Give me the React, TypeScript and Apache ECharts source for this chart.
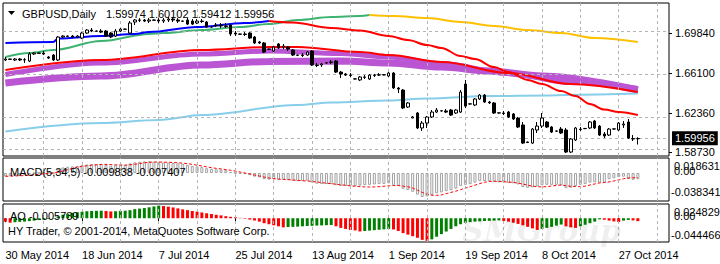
import React, { useEffect, useRef } from 'react';
import * as echarts from 'echarts';

const FONT = 'Liberation Sans';

// ---------- axis / labels ----------
const symbolTitle = 'GBPUSD,Daily';
const dateLabels = ['30 May 2014', '18 Jun 2014', '7 Jul 2014', '25 Jul 2014', '13 Aug 2014', '1 Sep 2014', '19 Sep 2014', '8 Oct 2014', '27 Oct 2014'];
const labelStep = 16;
const vGridIndex = [8, 16, 24, 32, 40, 48, 56, 64, 72, 80, 88, 96, 104, 112, 120, 128, 136];
const slotCount = 139; // 133 bars + chart shift
const priceTicks = [1.6984, 1.661, 1.6236, 1.5873];
const priceRange = [1.5834, 1.7265];
const macdScale = [0.018631, 0, -0.038341];
const macdRange = [-0.04473, 0.02396];
const aoScale = [0.024829, 0, -0.044466];
const aoRange = [-0.0468, 0.028];
const copyright = 'HY Trader, \u00A9 2001-2014, MetaQuotes Software Corp.';
const watermark = 'SMGroup';

// ---------- daily candles [open, high, low, close] ----------
const ohlc = [
  [1.6732, 1.6760, 1.6722, 1.6741], [1.6741, 1.6744, 1.6735, 1.6738], [1.6732, 1.6750, 1.6722, 1.6741], [1.6741, 1.6750, 1.6722, 1.6732],
  [1.6732, 1.6750, 1.6704, 1.6735], [1.6722, 1.6806, 1.6713, 1.6788], [1.6788, 1.6806, 1.6778, 1.6797], [1.6797, 1.6800, 1.6790, 1.6794],
  [1.6797, 1.6816, 1.6778, 1.6788], [1.6760, 1.6769, 1.6741, 1.6750], [1.6778, 1.6788, 1.6722, 1.6732], [1.6732, 1.6956, 1.6722, 1.6947],
  [1.6947, 1.6965, 1.6937, 1.6956], [1.6956, 1.6960, 1.6950, 1.6953], [1.6956, 1.6965, 1.6937, 1.6947], [1.6947, 1.6965, 1.6937, 1.6956],
  [1.6937, 1.6993, 1.6928, 1.6984], [1.6984, 1.7021, 1.6975, 1.7012], [1.7012, 1.7031, 1.6993, 1.7003], [1.7003, 1.7007, 1.6998, 1.7001],
  [1.7003, 1.7021, 1.6984, 1.6993], [1.7003, 1.7012, 1.6947, 1.6956], [1.6984, 1.6993, 1.6937, 1.6947], [1.6956, 1.7021, 1.6947, 1.7003],
  [1.7003, 1.7031, 1.6993, 1.7021], [1.7021, 1.7025, 1.7016, 1.7019], [1.6984, 1.7096, 1.6975, 1.7078], [1.7087, 1.7115, 1.7059, 1.7106],
  [1.7106, 1.7124, 1.7087, 1.7103], [1.7106, 1.7115, 1.7087, 1.7096], [1.7096, 1.7124, 1.7078, 1.7106], [1.7106, 1.7110, 1.7100, 1.7104],
  [1.7106, 1.7124, 1.7078, 1.7096], [1.7096, 1.7124, 1.7078, 1.7106], [1.7106, 1.7134, 1.7087, 1.7115], [1.7115, 1.7134, 1.7087, 1.7106],
  [1.7106, 1.7124, 1.7078, 1.7096], [1.7096, 1.7100, 1.7090, 1.7094], [1.7106, 1.7124, 1.7059, 1.7068], [1.7096, 1.7115, 1.7059, 1.7068],
  [1.7078, 1.7115, 1.7068, 1.7096], [1.7096, 1.7115, 1.7078, 1.7092], [1.7087, 1.7096, 1.7031, 1.7040], [1.7040, 1.7044, 1.7035, 1.7042],
  [1.7059, 1.7078, 1.7040, 1.7055], [1.7059, 1.7078, 1.7031, 1.7050], [1.7050, 1.7078, 1.7031, 1.7046], [1.7059, 1.7068, 1.6956, 1.6975],
  [1.6984, 1.7003, 1.6956, 1.6975], [1.6975, 1.6979, 1.6970, 1.6973], [1.6975, 1.6993, 1.6956, 1.6971], [1.6984, 1.6993, 1.6928, 1.6937],
  [1.6947, 1.6956, 1.6881, 1.6891], [1.6900, 1.6909, 1.6881, 1.6891], [1.6891, 1.6900, 1.6797, 1.6806], [1.6834, 1.6838, 1.6828, 1.6832],
  [1.6816, 1.6862, 1.6806, 1.6853], [1.6881, 1.6891, 1.6834, 1.6844], [1.6853, 1.6881, 1.6834, 1.6862], [1.6853, 1.6862, 1.6816, 1.6834],
  [1.6825, 1.6834, 1.6769, 1.6778], [1.6778, 1.6782, 1.6773, 1.6776], [1.6778, 1.6797, 1.6760, 1.6774], [1.6778, 1.6816, 1.6769, 1.6806],
  [1.6816, 1.6825, 1.6676, 1.6685], [1.6685, 1.6704, 1.6666, 1.6681], [1.6685, 1.6704, 1.6666, 1.6694], [1.6704, 1.6708, 1.6699, 1.6706],
  [1.6713, 1.6732, 1.6694, 1.6710], [1.6722, 1.6732, 1.6610, 1.6619], [1.6619, 1.6629, 1.6563, 1.6601], [1.6601, 1.6610, 1.6582, 1.6591],
  [1.6591, 1.6610, 1.6573, 1.6588], [1.6554, 1.6558, 1.6549, 1.6556], [1.6545, 1.6582, 1.6535, 1.6573], [1.6573, 1.6591, 1.6554, 1.6570],
  [1.6554, 1.6601, 1.6545, 1.6591], [1.6591, 1.6601, 1.6573, 1.6588], [1.6591, 1.6610, 1.6582, 1.6594], [1.6594, 1.6598, 1.6589, 1.6592],
  [1.6582, 1.6619, 1.6573, 1.6610], [1.6610, 1.6619, 1.6460, 1.6470], [1.6470, 1.6479, 1.6423, 1.6460], [1.6451, 1.6460, 1.6273, 1.6283],
  [1.6292, 1.6339, 1.6283, 1.6330], [1.6189, 1.6208, 1.6189, 1.6199], [1.6236, 1.6245, 1.6086, 1.6096], [1.6096, 1.6161, 1.6068, 1.6142],
  [1.6142, 1.6208, 1.6096, 1.6199], [1.6199, 1.6264, 1.6189, 1.6245], [1.6245, 1.6283, 1.6236, 1.6264], [1.6255, 1.6259, 1.6250, 1.6257],
  [1.6255, 1.6273, 1.6236, 1.6245], [1.6264, 1.6273, 1.6208, 1.6217], [1.6236, 1.6273, 1.6227, 1.6264], [1.6245, 1.6451, 1.6236, 1.6432],
  [1.6507, 1.6545, 1.6283, 1.6301], [1.6320, 1.6324, 1.6315, 1.6322], [1.6311, 1.6376, 1.6301, 1.6367], [1.6367, 1.6414, 1.6358, 1.6404],
  [1.6404, 1.6414, 1.6330, 1.6339], [1.6339, 1.6348, 1.6320, 1.6332], [1.6330, 1.6339, 1.6227, 1.6236], [1.6236, 1.6240, 1.6231, 1.6238],
  [1.6236, 1.6255, 1.6217, 1.6232], [1.6245, 1.6255, 1.6189, 1.6199], [1.6227, 1.6236, 1.6171, 1.6180], [1.6189, 1.6199, 1.6096, 1.6105],
  [1.6124, 1.6152, 1.5946, 1.5955], [1.5965, 1.5969, 1.5955, 1.5960], [1.5955, 1.6096, 1.5946, 1.6086], [1.6077, 1.6152, 1.6049, 1.6114],
  [1.6114, 1.6236, 1.6096, 1.6189], [1.6152, 1.6161, 1.6096, 1.6105], [1.6105, 1.6114, 1.6049, 1.6058], [1.6068, 1.6072, 1.6062, 1.6066],
  [1.6086, 1.6105, 1.6040, 1.6049], [1.6077, 1.6096, 1.5862, 1.5871], [1.5871, 1.6002, 1.5862, 1.5993], [1.5984, 1.6105, 1.5974, 1.6096],
  [1.6086, 1.6105, 1.6068, 1.6082], [1.6090, 1.6094, 1.6085, 1.6092], [1.6096, 1.6161, 1.6086, 1.6152], [1.6161, 1.6171, 1.6086, 1.6096],
  [1.6114, 1.6124, 1.6021, 1.6030], [1.6040, 1.6058, 1.6002, 1.6021], [1.6030, 1.6096, 1.6021, 1.6086], [1.6086, 1.6090, 1.6081, 1.6088],
  [1.6077, 1.6152, 1.6068, 1.6142], [1.6124, 1.6161, 1.6096, 1.6133], [1.6152, 1.6180, 1.5993, 1.6002], [1.5993, 1.6030, 1.5974, 1.5997],
  [1.59974, 1.60102, 1.59412, 1.59956],
];

// ---------- moving averages [barIndex, price] ----------
const fastUp = [[0, 1.6891], [10, 1.6900], [11, 1.6933], [20, 1.6956], [27, 1.6975], [30, 1.6993], [40, 1.7040], [50, 1.7078], [55, 1.7096]];
const fastDown = [[55, 1.7096], [60, 1.7082], [68, 1.7031], [74, 1.7007], [80, 1.6956], [84, 1.6919], [88, 1.6872], [91, 1.6844], [95, 1.6769], [98, 1.6741], [102, 1.6666], [105, 1.6619], [109, 1.6545], [112, 1.6507], [116, 1.6442], [119, 1.6395], [122, 1.6320], [125, 1.6269], [128, 1.6245], [132, 1.6217]];
const slowUp = [[0, 1.6760], [5, 1.6797], [10, 1.6825], [20, 1.6909], [30, 1.6975], [33, 1.6984], [41, 1.7012], [49, 1.7040], [55, 1.7068], [61, 1.7106], [68, 1.7134], [74, 1.7143], [76, 1.7152]];
const slowDown = [[76, 1.7152], [81, 1.7143], [88, 1.7124], [95, 1.7087], [102, 1.7050], [109, 1.7012], [116, 1.6984], [123, 1.6937], [132, 1.6900]];
const midRed = [[0, 1.6638], [20, 1.6732], [41, 1.6825], [55, 1.6853], [61, 1.6853], [74, 1.6806], [80, 1.6778], [91, 1.6713], [105, 1.6610], [118, 1.6507], [132, 1.6432]];
const bandUpper = [[0, 1.6596], [20, 1.6704], [41, 1.6788], [55, 1.6816], [70, 1.6792], [80, 1.6760], [91, 1.6699], [105, 1.6605], [118, 1.6521], [132, 1.6465]];
const bandLower = [[0, 1.6517], [20, 1.6582], [41, 1.6685], [55, 1.6718], [70, 1.6722], [80, 1.6704], [91, 1.6666], [101, 1.6629], [112, 1.6582], [132, 1.6451]];
const skyLine = [[0, 1.6063], [20, 1.6143], [32, 1.6171], [41, 1.6217], [61, 1.6311], [68, 1.6334], [80, 1.6353], [88, 1.6372], [101, 1.6395], [132, 1.6418]];

// ---------- MACD(5,34,5) ----------
const macdHist = [
  -0.0053, -0.0047, -0.0041, -0.0035, -0.0033, -0.0018, -0.0006, 0.0000, 0.0006, 0.0006,
  0.0000, 0.0065, 0.0089, 0.0100, 0.0106, 0.0112, 0.0124, 0.0136, 0.0142, 0.0142,
  0.0142, 0.0130, 0.0118, 0.0124, 0.0130, 0.0130, 0.0154, 0.0171, 0.0180, 0.0186,
  0.018631, 0.0180, 0.0175, 0.0168, 0.0165, 0.0160, 0.0154, 0.0148, 0.0130, 0.0112,
  0.0106, 0.0094, 0.0077, 0.0065, 0.0059, 0.0053, 0.0047, 0.0018, 0.0000, -0.0012,
  -0.0018, -0.0035, -0.0059, -0.0071, -0.0100, -0.0106, -0.0100, -0.0106, -0.0106, -0.0112,
  -0.0124, -0.0130, -0.0130, -0.0124, -0.0154, -0.0171, -0.0177, -0.0177, -0.0177, -0.0195,
  -0.0207, -0.0207, -0.0201, -0.0207, -0.0201, -0.0195, -0.0189, -0.0183, -0.0177, -0.0175,
  -0.0165, -0.0189, -0.0207, -0.0254, -0.0272, -0.0300, -0.0345, -0.038341, -0.0375, -0.0350,
  -0.0325, -0.0310, -0.0290, -0.0275, -0.0250, -0.0207, -0.0189, -0.0177, -0.0154, -0.0130,
  -0.0130, -0.0130, -0.0142, -0.0148, -0.0148, -0.0160, -0.0165, -0.0183, -0.0225, -0.0236,
  -0.0230, -0.0213, -0.0195, -0.0189, -0.0189, -0.0189, -0.0195, -0.0242, -0.0236, -0.0207,
  -0.0189, -0.0177, -0.0154, -0.0148, -0.0154, -0.0154, -0.0100, -0.0083, -0.0065, -0.0059,
  -0.0095, -0.0109, -0.009838,
];
const macdSignal = [
  -0.0053, -0.0051, -0.0047, -0.0044, -0.0041, -0.0035, -0.0030, -0.0021, -0.0012, -0.0006,
  0.0000, 0.0014, 0.0033, 0.0053, 0.0073, 0.0094, 0.0106, 0.0116, 0.0124, 0.0131,
  0.0137, 0.0138, 0.0135, 0.0131, 0.0129, 0.0126, 0.0131, 0.0139, 0.0151, 0.0162,
  0.0171, 0.0176, 0.0176, 0.0173, 0.0171, 0.0168, 0.0163, 0.0158, 0.0149, 0.0138,
  0.0125, 0.0112, 0.0098, 0.0085, 0.0074, 0.0065, 0.0055, 0.0044, 0.0030, 0.0015,
  0.0000, -0.0014, -0.0032, -0.0047, -0.0065, -0.0079, -0.0090, -0.0099, -0.0104, -0.0106,
  -0.0112, -0.0118, -0.0124, -0.0127, -0.0136, -0.0144, -0.0153, -0.0163, -0.0171, -0.0179,
  -0.0189, -0.0196, -0.0205, -0.0212, -0.0218, -0.0222, -0.0224, -0.0222, -0.0218, -0.0212,
  -0.0205, -0.0200, -0.0200, -0.0210, -0.0220, -0.0240, -0.0275, -0.0310, -0.0340, -0.0355,
  -0.0358, -0.0350, -0.0330, -0.0310, -0.0290, -0.0266, -0.0243, -0.0219, -0.0194, -0.0169,
  -0.0148, -0.0136, -0.0132, -0.0135, -0.0139, -0.0145, -0.0151, -0.0161, -0.0177, -0.0194,
  -0.0210, -0.0219, -0.0222, -0.0217, -0.0208, -0.0198, -0.0192, -0.0203, -0.0212, -0.0217,
  -0.0218, -0.0210, -0.0192, -0.0175, -0.0159, -0.0153, -0.0142, -0.0128, -0.0111, -0.0092,
  -0.0080, -0.0076, -0.007407,
];

// ---------- Awesome Oscillator ----------
const aoValues = [
  -0.0067, -0.0088, -0.0077, -0.0071, -0.0067, -0.0057, -0.0047, -0.0036, -0.0026, -0.0016,
  -0.0006, 0.0036, 0.0066, 0.0087, 0.0107, 0.0118, 0.0128, 0.0138, 0.0142, 0.0146,
  0.0148, 0.0142, 0.0134, 0.0138, 0.0144, 0.0148, 0.0159, 0.0179, 0.0189, 0.0200,
  0.0215, 0.0232, 0.024829, 0.0240, 0.0228, 0.0212, 0.0194, 0.0175, 0.0159, 0.0142,
  0.0128, 0.0113, 0.0097, 0.0083, 0.0068, 0.0056, 0.0040, 0.0027, 0.0019, 0.0007,
  -0.0010, -0.0026, -0.0047, -0.0067, -0.0098, -0.0118, -0.0139, -0.0159, -0.0180, -0.0174,
  -0.0170, -0.0165, -0.0159, -0.0153, -0.0149, -0.0145, -0.0141, -0.0137, -0.0133, -0.0159,
  -0.0190, -0.0211, -0.0231, -0.0241, -0.0260, -0.0252, -0.0243, -0.0235, -0.0227, -0.0219,
  -0.0211, -0.0221, -0.0252, -0.0293, -0.0323, -0.0354, -0.0385, -0.0426, -0.044466, -0.0416,
  -0.0364, -0.0313, -0.0262, -0.0211, -0.0159, -0.0118, -0.0088, -0.0077, -0.0067, -0.0061,
  -0.0055, -0.0051, -0.0047, -0.0042, -0.0053, -0.0067, -0.0088, -0.0112, -0.0139, -0.0170,
  -0.0200, -0.0231, -0.0211, -0.0190, -0.0170, -0.0145, -0.0124, -0.0159, -0.0180, -0.0190,
  -0.0159, -0.0129, -0.0098, -0.0067, -0.0022, -0.0030, -0.0047, -0.0063, -0.0075, -0.0047,
  -0.0034, -0.0042, -0.005739,
];

const GRID_COLOR = '#B4B4B4';
const GRID_DASH = [3, 3];

function fmtScale(v: number, digits: number) {
  return v === 0 ? '0.00' : v.toFixed(digits);
}

function buildOption() {
  const cats = Array.from({ length: slotCount }, (_, i) => String(i));
  const last = ohlc[ohlc.length - 1];
  const lastClose = last[3];
  const candleData = ohlc.map(([o, h, l, c]) => [o, c, l, h]);
  const showDate = (i: number) => i % labelStep === 0 && i / labelStep < dateLabels.length;
  const vLines = vGridIndex.map((i) => ({ xAxis: i }));
  const gridMark = (extra: any[]) => ({
    silent: true,
    symbol: ['none', 'none'],
    animation: false,
    label: { show: false },
    lineStyle: { color: GRID_COLOR, type: GRID_DASH, width: 1 },
    data: [...vLines, ...extra],
  });

  const frame = { show: true, borderColor: '#000', borderWidth: 1, backgroundColor: 'transparent', left: 3, width: 666 };
  const grids = [
    { ...frame, top: 3, height: 153 },
    { ...frame, top: 158, height: 43 },
    { ...frame, top: 204, height: 38 },
  ];

  const xAxes = [0, 1, 2].map((g) => ({
    type: 'category',
    gridIndex: g,
    data: cats,
    boundaryGap: true,
    show: g === 2,
    axisLine: { show: false },
    axisTick: { show: g === 2, alignWithLabel: true, interval: (i: number) => showDate(i), length: 4, lineStyle: { color: '#000' } },
    axisLabel: {
      show: g === 2,
      interval: (i: number) => showDate(i),
      formatter: (_v: string, i: number) => dateLabels[i / labelStep] || '',
      align: 'left',
      margin: 7,
      color: '#000',
      fontSize: 11,
      fontFamily: FONT,
    },
    splitLine: { show: false },
  }));

  const yAxes = [
    {
      type: 'value', gridIndex: 0, position: 'right', min: priceRange[0], max: priceRange[1],
      axisLine: { show: false },
      axisTick: { show: true, customValues: priceTicks, length: 3, lineStyle: { color: '#000' } },
      axisLabel: { customValues: priceTicks, formatter: (v: number) => v.toFixed(5), color: '#000', fontSize: 11, fontFamily: FONT, margin: 6 },
      splitLine: { show: false },
    },
    { type: 'value', gridIndex: 1, position: 'right', min: macdRange[0], max: macdRange[1], show: false, splitLine: { show: false } },
    { type: 'value', gridIndex: 2, position: 'right', min: aoRange[0], max: aoRange[1], show: false, splitLine: { show: false } },
  ];

  const maLine = (name: string, data: number[][], color: string, width: number, z: number, extra: any = {}) => ({
    type: 'line', name, xAxisIndex: 0, yAxisIndex: 0, data, showSymbol: false, symbol: 'none',
    smooth: 0.35, smoothMonotone: 'x', silent: true, z,
    lineStyle: { color, width }, ...extra,
  });

  const aoData = aoValues.map((v, i) => ({
    value: v,
    itemStyle: { color: i > 0 && v > aoValues[i - 1] ? '#008000' : '#FF0000' },
  }));

  const series: any[] = [
    maLine('bandLower', bandLower, '#BA55D3', 7, 2),
    maLine('bandUpper', bandUpper, '#BA55D3', 5, 2),
    maLine('midRed', midRed, '#FF0000', 2, 3),
    maLine('skyLine', skyLine, '#87CEEB', 2, 2, { markLine: gridMark(priceTicks.map((v) => ({ yAxis: v }))) }),
    maLine('slowUp', slowUp, '#3CB371', 2, 4),
    maLine('slowDown', slowDown, '#FFC000', 2, 4),
    maLine('fastUp', fastUp, '#0000FF', 2, 5),
    maLine('fastDown', fastDown, '#FF0000', 2, 5),
    {
      type: 'candlestick', name: 'GBPUSD', xAxisIndex: 0, yAxisIndex: 0, data: candleData, barWidth: 3, z: 10, silent: true,
      itemStyle: { color: '#FFFFFF', color0: '#000000', borderColor: '#000000', borderColor0: '#000000', borderColorDoji: '#000000', borderWidth: 1 },
      markLine: {
        silent: true, symbol: ['none', 'none'], animation: false,
        lineStyle: { color: GRID_COLOR, type: GRID_DASH, width: 1 },
        data: [{
          yAxis: lastClose,
          label: {
            show: true, position: 'end', formatter: lastClose.toFixed(5), distance: 3,
            backgroundColor: '#000', color: '#fff', padding: [2, 3, 1, 3], fontSize: 11, fontFamily: FONT,
          },
        }],
      },
    },
    {
      type: 'bar', name: 'MACD', xAxisIndex: 1, yAxisIndex: 1, data: macdHist, barWidth: 3, silent: true,
      itemStyle: { color: '#FFFFFF', borderColor: '#A0A0A0', borderWidth: 1 },
      markLine: gridMark([]),
    },
    {
      type: 'line', name: 'Signal', xAxisIndex: 1, yAxisIndex: 1, data: macdSignal, showSymbol: false, symbol: 'none', silent: true, z: 4,
      lineStyle: { color: '#FF0000', width: 1, type: [3, 2] },
    },
    {
      type: 'bar', name: 'AO', xAxisIndex: 2, yAxisIndex: 2, data: aoData, barWidth: 3, silent: true,
      markLine: gridMark([]),
    },
  ];

  const txt = (x: number, y: number, text: string, extra: any = {}) => ({
    type: 'text', x, y, silent: true, z: 50,
    style: { text, fill: '#000', fontSize: 11, fontFamily: FONT, align: 'left', verticalAlign: 'middle', ...extra },
  });

  const ohlcText = last.map((v) => v.toFixed(5)).join(' ');
  const macdText = `MACD(5,34,5) ${macdHist[macdHist.length - 1].toFixed(6)} ${macdSignal[macdSignal.length - 1].toFixed(6)}`;
  const aoText = `AO ${aoValues[aoValues.length - 1].toFixed(6)}`;

  const macdLabelY = [166, 170.5, 192];
  const aoLabelY = [212, 216, 235];

  const graphic: any[] = [
    { type: 'polygon', silent: true, z: 50, shape: { points: [[8, 11], [15, 11], [11.5, 15]] }, style: { fill: '#000' } },
    txt(22, 13.5, symbolTitle),
    txt(106, 13.5, ohlcText),
    txt(10, 172, macdText),
    txt(10, 215.5, aoText),
    txt(8, 230.5, copyright),
    ...macdScale.map((v, k) => txt(v < 0 ? 671 : 674, macdLabelY[k], fmtScale(v, 6))),
    ...aoScale.map((v, k) => txt(v < 0 ? 671 : 674, aoLabelY[k], fmtScale(v, 6))),
    {
      type: 'text', x: 462, y: 230, silent: true, z: 60,
      style: { text: watermark, fill: 'rgba(0,0,0,0.07)', fontSize: 30, fontFamily: 'DejaVu Serif', fontStyle: 'italic', fontWeight: 'bold', verticalAlign: 'middle' },
    },
  ];

  return {
    animation: false,
    backgroundColor: '#FFFFFF',
    textStyle: { fontFamily: FONT },
    grid: grids,
    xAxis: xAxes,
    yAxis: yAxes,
    series,
    graphic,
  };
}

export default function App() {
  const ref = useRef<HTMLDivElement>(null);
  useEffect(() => {
    if (!ref.current) return;
    const chart = echarts.init(ref.current, null, { renderer: 'svg' });
    chart.setOption(buildOption() as any);
    return () => chart.dispose();
  }, []);
  return <div ref={ref} style={{ position: 'absolute', left: 0, top: 0, width: 720, height: 264, background: '#fff' }} />;
}
